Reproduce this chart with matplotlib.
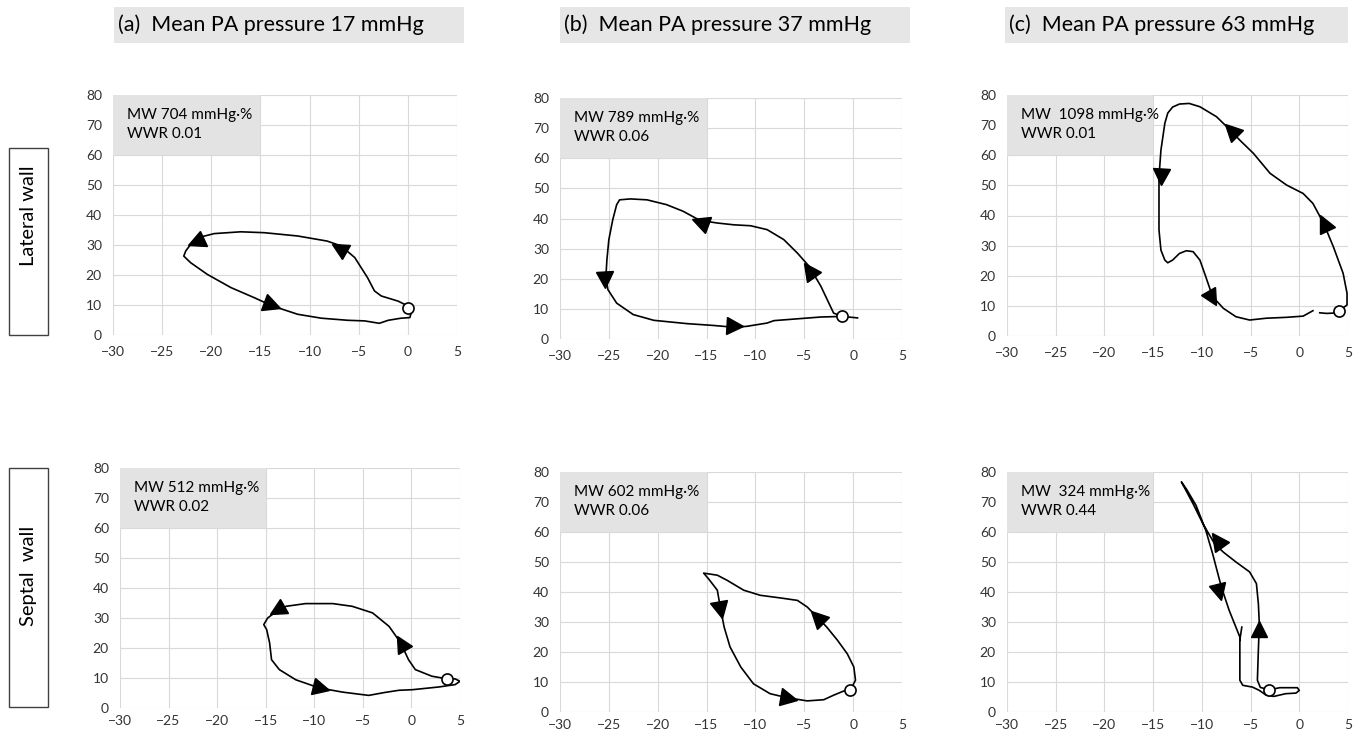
import numpy as np
import matplotlib
matplotlib.use("Agg")
import matplotlib.pyplot as plt
from matplotlib.markers import MarkerStyle
from matplotlib.patches import Rectangle
from matplotlib.transforms import Affine2D

plt.rcParams['font.family'] = ['Lato', 'DejaVu Sans']

# ---- data (strain % on x, pressure mmHg on y) ----
titles = ["(a)  Mean PA pressure 17 mmHg",
          "(b)  Mean PA pressure 37 mmHg",
          "(c)  Mean PA pressure 63 mmHg"]
row_labels = ["Lateral wall", "Septal  wall"]
box_texts = [["MW 704 mmHg\u00b7%\nWWR 0.01", "MW 789 mmHg\u00b7%\nWWR 0.06", "MW  1098 mmHg\u00b7%\nWWR 0.01"],
             ["MW 512 mmHg\u00b7%\nWWR 0.02", "MW 602 mmHg\u00b7%\nWWR 0.06", "MW  324 mmHg\u00b7%\nWWR 0.44"]]
x_ticks = [-30, -25, -20, -15, -10, -5, 0, 5]
y_ticks = [0, 10, 20, 30, 40, 50, 60, 70, 80]

# lateral wall, 17 mmHg
lat_a_x = [0.0, -0.2, -1.0, -2.7, -3.4, -4.1, -5.4, -6.8, -8.2, -11.2, -14.6, -17.0, -19.7, -21.4, -22.1,
           -22.6, -22.8, -22.1, -20.4, -18.0, -15.6, -13.8, -11.2, -8.8, -6.1, -4.4, -2.9, -2.0, -0.7, 0.2, 0.3]
lat_a_y = [9.0, 10.0, 11.3, 13.0, 14.7, 19.1, 25.8, 29.7, 31.3, 33.0, 34.1, 34.4, 33.8, 32.4, 30.2,
           28.0, 26.3, 24.1, 20.2, 15.8, 12.4, 9.7, 6.9, 5.6, 4.9, 4.7, 3.9, 4.9, 5.6, 5.8, 6.9]
lat_a_arrow_x = [-7.0, -21.6, -13.8]
lat_a_arrow_y = [29.0, 31.0, 9.9]
lat_a_start = (0.0, 9.0)

# lateral wall, 37 mmHg
lat_b_x = [-1.1, -2.0, -3.3, -4.5, -5.7, -7.1, -8.8, -10.5, -12.2, -13.9, -15.7, -17.4, -19.1, -21.1, -22.8,
           -23.9, -24.2, -24.6, -25.0, -25.2, -25.3, -25.1, -24.2, -22.5, -20.4, -17.0, -14.3, -12.2, -10.9,
           -8.8, -8.1, -6.1, -3.3, -1.1, 0.45]
lat_b_y = [7.5, 8.6, 17.5, 24.1, 28.5, 33.0, 36.3, 37.6, 37.9, 38.5, 39.4, 42.4, 44.6, 46.2, 46.5,
           46.2, 44.6, 39.6, 33.0, 26.3, 20.8, 16.4, 11.9, 8.1, 6.2, 5.1, 4.5, 3.9, 4.2,
           5.3, 6.1, 6.6, 7.3, 7.5, 7.0]
lat_b_arrow_x = [-4.5, -15.7, -25.4, -12.1]
lat_b_arrow_y = [23.0, 39.0, 19.7, 4.2]
lat_b_start = (-1.1, 7.5)

# lateral wall, 63 mmHg
lat_c_x = [4.1, 4.9, 4.9, 4.5, 3.5, 2.5, 1.4, 0.4, -1.3, -3.0, -4.7, -6.1, -7.1, -8.5, -10.2, -11.3, -12.3,
           -13.0, -13.5, -13.8, -14.2, -14.4, -14.4, -14.4, -14.2, -13.8, -13.5, -13.0, -12.3, -11.6, -10.9,
           -10.2, -9.6, -8.9, -7.8, -6.5, -5.1, -3.4, -1.3, 0.4, 1.4]
lat_c_y = [8.4, 10.3, 14.2, 20.8, 29.6, 37.4, 44.0, 47.3, 50.1, 54.0, 60.6, 65.0, 68.4, 72.8, 76.1, 77.2, 77.0,
           76.0, 74.0, 70.6, 61.7, 52.9, 45.1, 35.2, 28.5, 25.2, 24.3, 25.2, 27.4, 28.3, 28.0,
           25.2, 19.7, 13.1, 9.2, 6.4, 5.3, 5.9, 6.2, 6.6, 8.4]
lat_c_tail_x = [2.1, 2.8, 3.5, 4.1]
lat_c_tail_y = [7.7, 7.5, 7.6, 8.2]
lat_c_arrow_x = [2.5, -7.0, -14.2, -9.0]
lat_c_arrow_y = [37.4, 68.4, 52.9, 12.5]
lat_c_start = (4.1, 8.4)

# septal wall, 17 mmHg
sep_a_x = [3.7, 2.1, 0.4, -0.3, -1.1, -2.3, -4.0, -6.1, -8.1, -10.9, -12.9, -13.9, -14.8, -15.2, -14.9,
           -14.6, -14.4, -13.6, -11.9, -9.5, -7.1, -4.4, -2.7, -1.3, 0.1, 2.8, 4.5, 5.0, 4.5, 3.9]
sep_a_y = [9.7, 10.6, 12.8, 16.1, 21.7, 27.2, 31.7, 33.9, 34.8, 34.8, 33.9, 32.2, 30.0, 27.8, 26.1,
           21.7, 16.1, 12.8, 9.4, 6.7, 5.3, 4.2, 5.2, 5.9, 6.1, 7.0, 7.8, 8.9, 9.7, 9.7]
sep_a_arrow_x = [-1.1, -13.8, -9.3]
sep_a_arrow_y = [21.7, 32.8, 6.7]
sep_a_start = (3.7, 9.7)

# septal wall, 37 mmHg
sep_b_x = [-0.3, 0.24, 0.07, -0.6, -1.6, -2.7, -3.7, -4.7, -5.7, -7.4, -9.5, -11.2, -12.9, -13.9, -15.3,
           -14.8, -13.9, -13.6, -13.2, -12.6, -11.5, -10.2, -8.5, -6.8, -4.7, -3.0, -2.0, -0.96, -0.3]
sep_b_y = [7.2, 10.6, 15.0, 19.4, 23.9, 28.3, 31.7, 35.0, 37.2, 38.0, 38.9, 40.6, 43.9, 45.6, 46.3,
           44.4, 40.6, 35.0, 28.3, 21.7, 15.0, 9.4, 6.1, 4.8, 3.7, 4.1, 5.6, 7.0, 7.2]
sep_b_arrow_x = [-3.7, -13.6, -6.6]
sep_b_arrow_y = [31.7, 33.9, 4.8]
sep_b_start = (-0.3, 7.2)

# septal wall, 63 mmHg
sep_c_x = [-5.9, -6.1, -6.1, -5.8, -4.8, -4.1, -3.4, -2.6, -1.4, -0.34, 0.0, -0.2, -1.0, -2.0, -3.1,
           -4.0, -4.3, -4.2, -4.1, -4.2, -4.4, -5.1, -6.5, -7.8, -8.7, -9.9, -10.9, -12.1,
           -11.6, -10.6, -9.6, -8.9, -8.0, -7.2, -6.1, -6.1]
sep_c_y = [28.3, 24.0, 10.6, 8.9, 8.3, 7.2, 5.6, 5.2, 6.1, 6.3, 7.2, 8.1, 8.1, 8.1, 7.4,
           8.2, 10.6, 20.6, 29.4, 36.1, 42.8, 46.7, 50.0, 53.3, 56.1, 62.8, 69.4, 76.7,
           74.4, 68.9, 60.6, 52.8, 41.7, 33.9, 25.0, 23.9]
sep_c_arrow_x = [-4.1, -8.4, -8.2]
sep_c_arrow_y = [27.8, 57.2, 40.0]
sep_c_start = (-3.1, 7.4)

panels = [
    [(lat_a_x, lat_a_y, None, None, lat_a_arrow_x, lat_a_arrow_y, lat_a_start),
     (lat_b_x, lat_b_y, None, None, lat_b_arrow_x, lat_b_arrow_y, lat_b_start),
     (lat_c_x, lat_c_y, lat_c_tail_x, lat_c_tail_y, lat_c_arrow_x, lat_c_arrow_y, lat_c_start)],
    [(sep_a_x, sep_a_y, None, None, sep_a_arrow_x, sep_a_arrow_y, sep_a_start),
     (sep_b_x, sep_b_y, None, None, sep_b_arrow_x, sep_b_arrow_y, sep_b_start),
     (sep_c_x, sep_c_y, None, None, sep_c_arrow_x, sep_c_arrow_y, sep_c_start)],
]

# ---- layout (pixels) ----
W, H = 1362, 738
fig = plt.figure(figsize=(W / 100, H / 100), dpi=100)


def rect(l, t, r, b):
    return [l / W, 1 - b / H, (r - l) / W, (b - t) / H]


axes_px = [[(113, 95, 457, 335), (560, 98, 902, 339), (1007, 95, 1348, 336)],
           [(120, 468, 460, 708), (560, 472, 902, 712), (1007, 472, 1348, 712)]]
title_px = [(114, 464), (560, 910), (1005, 1348)]
row_box_px = [(148, 335), (468, 707)]
row_text_y = [216, 576]
xpad = [8.0, 5.0]

grid_c = '#d9d9d9'
for i, t in enumerate(titles):
    l, r = title_px[i]
    fig.add_artist(Rectangle((l / W, 1 - 43 / H), (r - l) / W, 36 / H, transform=fig.transFigure,
                             facecolor='#e6e6e6', edgecolor='none'))
    fig.text((l + 4) / W, 1 - 25 / H, t, fontsize=15.5, va='center', ha='left', color='black')

for i, lab in enumerate(row_labels):
    t, b = row_box_px[i]
    fig.add_artist(Rectangle((9 / W, 1 - b / H), 39 / W, (b - t) / H, transform=fig.transFigure,
                             facecolor='white', edgecolor='#404040', lw=1.0))
    fig.text(28.5 / W, 1 - row_text_y[i] / H, lab, rotation=90, fontsize=14.5, va='center', ha='center')

for r in range(2):
    for c in range(3):
        ax = fig.add_axes(rect(*axes_px[r][c]))
        cx, cy, tx, ty, axs, ays, start = panels[r][c]
        ax.set_xlim(-30, 5)
        ax.set_ylim(0, 80)
        ax.set_xticks(x_ticks)
        ax.set_yticks(y_ticks)
        ax.grid(True, color=grid_c, lw=0.8)
        ax.set_axisbelow(True)
        for s in ax.spines.values():
            s.set_visible(False)
        ax.tick_params(length=0, labelsize=10, colors='#333333')
        ax.tick_params(axis='y', pad=8.0)
        ax.tick_params(axis='x', pad=xpad[r])

        ax.add_patch(Rectangle((-30, 60), 15, 20, facecolor='#e3e3e3', edgecolor='none', zorder=1))
        ax.text(-28.6, 70.3, box_texts[r][c], fontsize=11, va='center', ha='left',
                linespacing=1.45, zorder=2)

        ax.plot(cx, cy, color='black', lw=1.2, zorder=3)
        if tx is not None:
            ax.plot(tx, ty, color='black', lw=1.2, zorder=3)

        # arrow heads oriented along the loop
        pts = ax.transData.transform(np.column_stack([cx, cy]))
        for x0, y0 in zip(axs, ays):
            p = ax.transData.transform((x0, y0))
            j = int(np.argmin(np.hypot(*(pts - p).T)))
            j0, j1 = max(j - 1, 0), min(j + 1, len(pts) - 1)
            d = pts[j1] - pts[j0]
            ang = np.degrees(np.arctan2(d[1], d[0]))
            m = MarkerStyle('^', transform=Affine2D().rotate_deg(ang - 90))
            ax.plot(x0, y0, marker=m, ms=12, color='black', ls='none', zorder=5)

        ax.plot(*start, marker='o', ms=8, mfc='white', mec='black', mew=1.2, zorder=6)

fig.savefig('out.png', dpi=100)
